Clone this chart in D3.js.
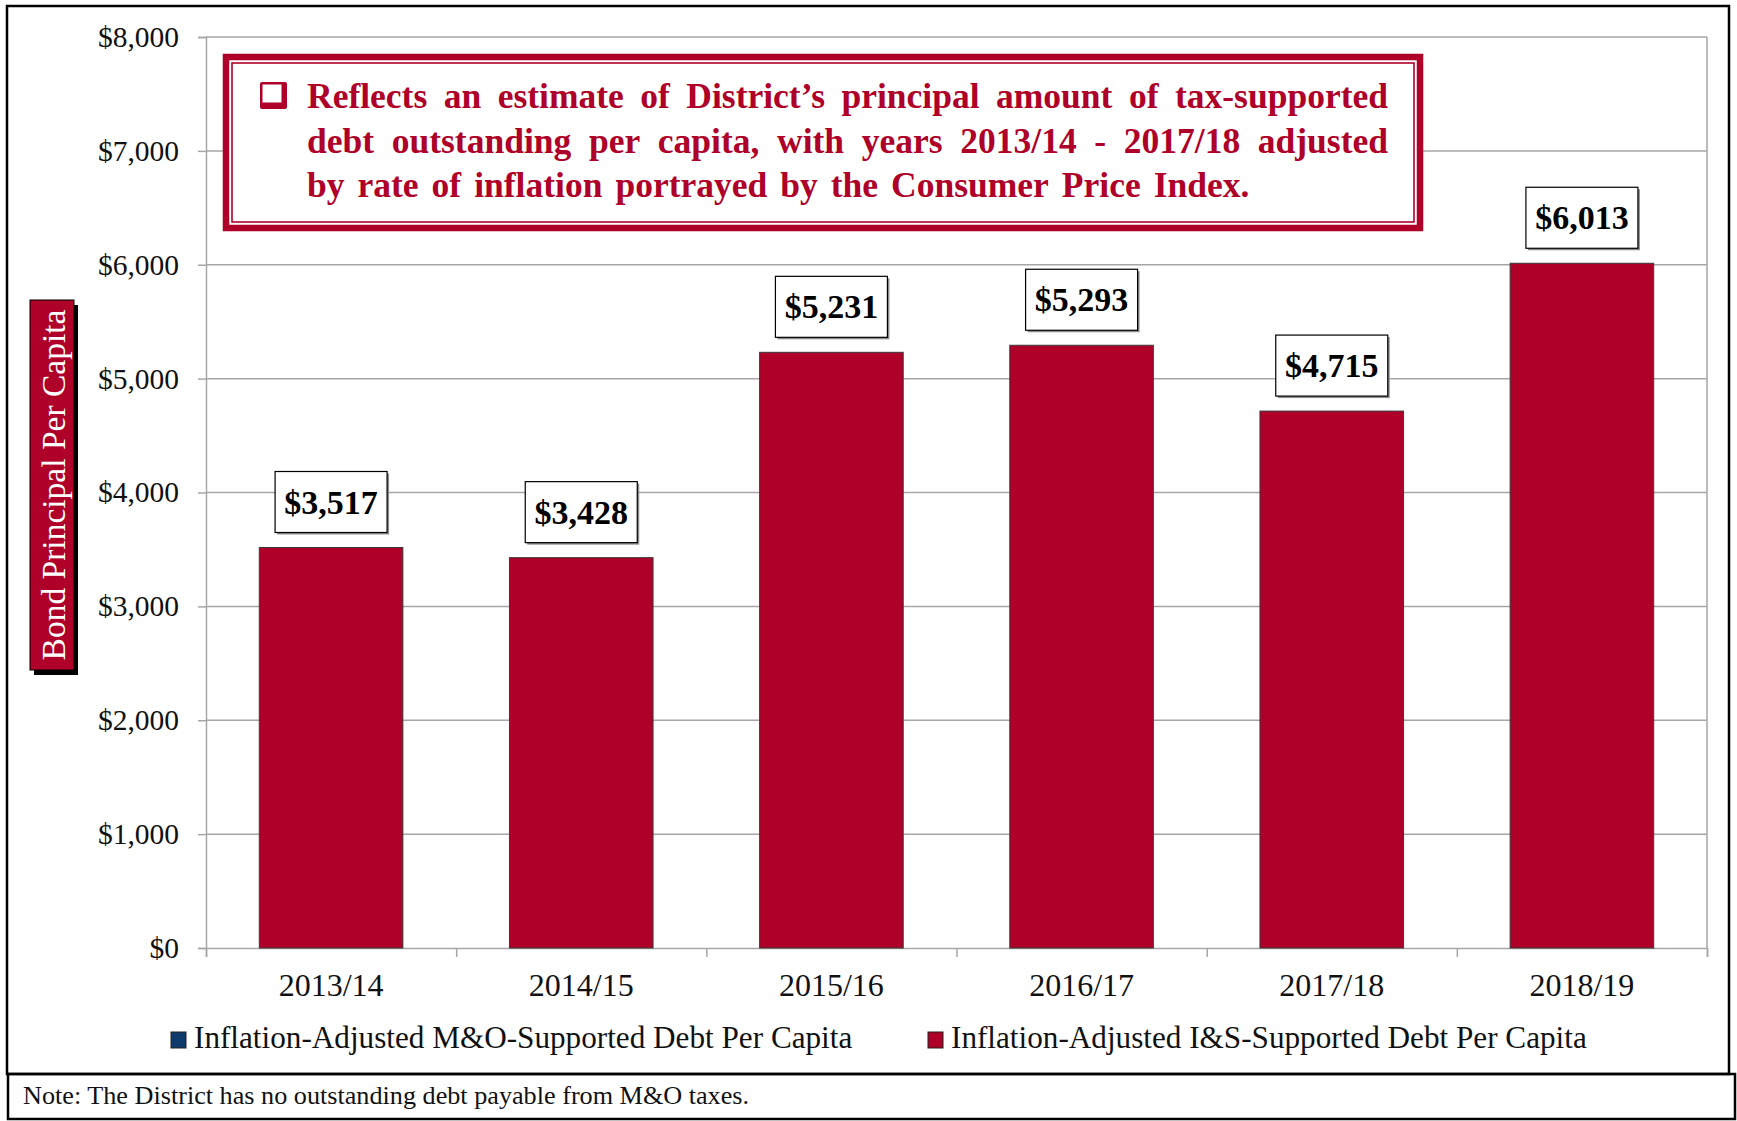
<!DOCTYPE html>
<html>
<head>
<meta charset="utf-8">
<script src="https://cdn.jsdelivr.net/npm/d3@7"></script>
<style>
  body { margin: 0; background: #fff; }
  text { font-family: "Liberation Serif", "Times New Roman", serif; }
</style>
</head>
<body>
<div id="graph"></div>
<script>
// chart data
var years = ["2013/14", "2014/15", "2015/16", "2016/17", "2017/18", "2018/19"];
var isDebt = [3517, 3428, 5231, 5293, 4715, 6013];   // I&S supported, per capita
var moDebt = [0, 0, 0, 0, 0, 0];                      // M&O supported, per capita
var yTicks = [0, 1000, 2000, 3000, 4000, 5000, 6000, 7000, 8000];
var seriesNames = ["Inflation-Adjusted M&O-Supported Debt Per Capita",
                   "Inflation-Adjusted I&S-Supported Debt Per Capita"];
var noteLines = ["Reflects an estimate of District\u2019s principal amount of tax-supported",
                 "debt outstanding per capita, with years 2013/14 - 2017/18 adjusted",
                 "by rate of inflation portrayed by the Consumer Price Index."];
var yTitle = "Bond Principal Per Capita";
var footNote = "Note: The District has no outstanding debt payable from M&O taxes.";

var W = 1737, H = 1121;
var red = "#ae0028", navy = "#0d3a6b", grid = "#a6a6a6";
var plot = {left: 206, right: 1707, top: 37, bottom: 948};

var svg = d3.select("#graph")
            .append("svg")
            .attr("width", W)
            .attr("height", H);

// outer frames
svg.append("rect")
    .attr("x", 7).attr("y", 6).attr("width", 1722).attr("height", 1068)
    .attr("fill", "none").attr("stroke", "#000").attr("stroke-width", 2.5);
svg.append("rect")
    .attr("x", 8).attr("y", 1074).attr("width", 1727).attr("height", 45)
    .attr("fill", "none").attr("stroke", "#000").attr("stroke-width", 2.5);
svg.append("text")
    .attr("x", 23).attr("y", 1104)
    .attr("font-size", 26.2).attr("fill", "#111")
    .text(footNote);

var x = d3.scaleBand()
            .domain(years)
            .range([plot.left, plot.right])
            .paddingInner(0.426)
            .paddingOuter(0.213);

var y = d3.scaleLinear()
            .domain([0, 8000])
            .range([plot.bottom, plot.top]);

// gridlines
svg.append("g")
    .selectAll("line")
    .data(yTicks.slice(1))
    .enter()
        .append("line")
        .attr("x1", plot.left).attr("x2", plot.right)
        .attr("y1", function(d) { return y(d); })
        .attr("y2", function(d) { return y(d); })
        .attr("stroke", grid).attr("stroke-width", 1.5);
svg.append("line")
    .attr("x1", plot.right).attr("x2", plot.right)
    .attr("y1", plot.top).attr("y2", plot.bottom)
    .attr("stroke", grid).attr("stroke-width", 1.5);

// y axis
var yAxis = svg.append("g")
    .attr("transform", "translate(" + plot.left + ",0)")
    .call(d3.axisLeft(y)
            .tickValues(yTicks)
            .tickSize(8)
            .tickPadding(19)
            .tickFormat(function(d) { return "$" + d3.format(",")(d); }));
yAxis.selectAll("text")
    .attr("font-size", 29.5).attr("fill", "#111")
    .style("font-family", "Liberation Serif");
yAxis.selectAll("line, path").attr("stroke", grid).attr("stroke-width", 1.5);

// x axis: boundary ticks + category labels
var bounds = d3.scaleLinear().domain([0, years.length]).range([plot.left, plot.right]);
var xTicks = svg.append("g")
    .attr("transform", "translate(0," + plot.bottom + ")")
    .call(d3.axisBottom(bounds)
            .tickValues(d3.range(years.length + 1))
            .tickSize(9)
            .tickFormat(""));
xTicks.selectAll("line, path").attr("stroke", grid).attr("stroke-width", 1.5);

var xAxis = svg.append("g")
    .attr("transform", "translate(0," + plot.bottom + ")")
    .call(d3.axisBottom(x).tickSize(0).tickPadding(25));
xAxis.select("path").remove();
xAxis.selectAll("text")
    .attr("font-size", 32).attr("fill", "#111")
    .style("font-family", "Liberation Serif");

// bars (M&O series is all zero, I&S drawn on top)
var rows = years.map(function(d, i) { return {year: d, mo: moDebt[i], is: isDebt[i]}; });

svg.selectAll("rect.bar")
    .data(rows)
    .enter()
        .append("rect")
        .attr("class", "bar")
        .attr("x", function(d) { return x(d.year); })
        .attr("y", function(d) { return y(d.mo + d.is); })
        .attr("width", x.bandwidth())
        .attr("height", function(d) { return y(d.mo) - y(d.mo + d.is); })
        .attr("fill", red)
        .attr("stroke", "#3a3a3a")
        .attr("stroke-width", 1);

// value labels
var lab = svg.selectAll("g.lab")
    .data(rows)
    .enter()
        .append("g")
        .attr("class", "lab")
        .attr("transform", function(d) {
            return "translate(" + (x(d.year) + x.bandwidth() / 2) + "," + (y(d.mo + d.is) - 46) + ")";
        });
lab.append("rect")
    .attr("x", -54).attr("y", -28).attr("width", 112).attr("height", 61)
    .attr("fill", "#8c8c8c");
lab.append("rect")
    .attr("x", -56).attr("y", -30).attr("width", 112).attr("height", 61)
    .attr("fill", "#fff").attr("stroke", "#000").attr("stroke-width", 1.2);
lab.append("text")
    .attr("text-anchor", "middle")
    .attr("y", 12)
    .attr("font-size", 34).attr("font-weight", "bold").attr("fill", "#000")
    .text(function(d) { return "$" + d3.format(",")(d.mo + d.is); });

// y title box
svg.append("rect")
    .attr("x", 34).attr("y", 305).attr("width", 44).attr("height", 370)
    .attr("fill", "#000");
svg.append("rect")
    .attr("x", 30).attr("y", 300).attr("width", 44).attr("height", 370)
    .attr("fill", red).attr("stroke", "#000").attr("stroke-width", 1);
svg.append("text")
    .attr("transform", "translate(53,485) rotate(-90)")
    .attr("text-anchor", "middle")
    .attr("dominant-baseline", "central")
    .attr("font-size", 33.5).attr("fill", "#fff")
    .text(yTitle);

// annotation box
svg.append("rect")
    .attr("x", 226).attr("y", 57).attr("width", 1194).attr("height", 171)
    .attr("fill", "#fff").attr("stroke", red).attr("stroke-width", 6.5);
svg.append("rect")
    .attr("x", 232).attr("y", 63).attr("width", 1182).attr("height", 159)
    .attr("fill", "none").attr("stroke", red).attr("stroke-width", 1.6);

// checkbox bullet
svg.append("rect")
    .attr("x", 260).attr("y", 82).attr("width", 27).attr("height", 27).attr("rx", 2)
    .attr("fill", red);
svg.append("rect")
    .attr("x", 262.5).attr("y", 84.5).attr("width", 19).attr("height", 18)
    .attr("fill", "#fff");

// justified note text
var tx0 = 307, tx1 = 1388, lineY = [108, 152.5, 197];
noteLines.forEach(function(line, li) {
    var words = line.split(" ");
    var g = svg.append("g");
    var nodes = words.map(function(w) {
        return g.append("text")
            .attr("y", lineY[li])
            .attr("font-size", 35.5).attr("font-weight", "bold").attr("fill", red)
            .text(w);
    });
    var widths = nodes.map(function(n) { return n.node().getComputedTextLength(); });
    var total = d3.sum(widths);
    var gap = (li < noteLines.length - 1) ? (tx1 - tx0 - total) / (words.length - 1) : 13;
    var cx = tx0;
    nodes.forEach(function(n, i) {
        n.attr("x", cx);
        cx += widths[i] + gap;
    });
});

// legend
var legX = [171, 928];
var legColors = [navy, red];
var leg = svg.selectAll("g.leg")
    .data(seriesNames)
    .enter()
        .append("g")
        .attr("class", "leg")
        .attr("transform", function(d, i) { return "translate(" + legX[i] + ",1032)"; });
leg.append("rect")
    .attr("width", 15).attr("height", 16)
    .attr("fill", function(d, i) { return legColors[i]; })
    .attr("stroke", "#222").attr("stroke-width", 1);
leg.append("text")
    .attr("x", 23).attr("y", 16)
    .attr("font-size", 31.2).attr("fill", "#111")
    .text(function(d) { return d; });
</script>
</body>
</html>
